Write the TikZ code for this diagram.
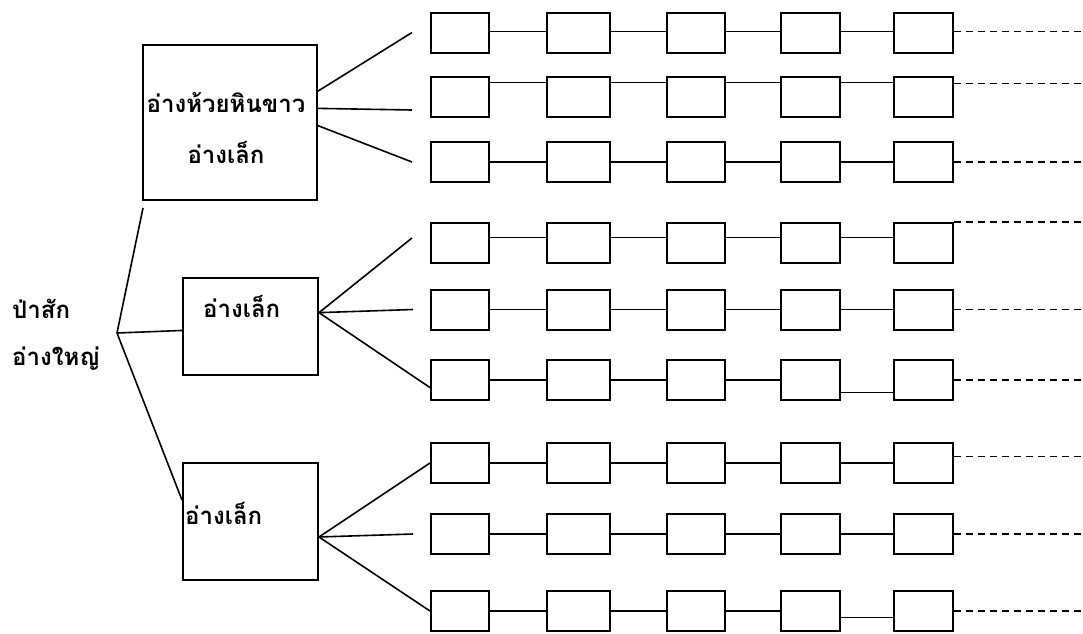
\documentclass[tikz,border=0pt]{standalone}
\usepackage{fontspec}
\newfontfamily\thaifont[Script=Thai]{Loma}
\usetikzlibrary{calc}

\tikzset{
	cell/.style={draw, line width=2pt, inner sep=0pt, minimum height=40pt},
	pond/.style={draw, line width=2pt, inner sep=0pt},
	link/.style={line width=1.6pt},
	tail/.style={line width=1.5pt, dash pattern=on 7pt off 5pt},
	thai/.style={font=\thaifont\bfseries\fontsize{24}{51}\selectfont, inner sep=0pt}
}

\begin{document}
\begin{tikzpicture}[x=1pt,y=-1pt]
				\useasboundingbox (0,0) rectangle (1083,633);
				
				\foreach \row/\y in {1/32.5,2/97,3/162,4/243,5/309.5,6/380,7/463,8/534,9/611}
					\foreach \col/\x/\w in {1/460/58,2/578.5/63,3/696/58,4/810.5/59,5/923.5/59}
						\node[cell, minimum width=\w pt] (b\row\col) at (\x,\y) {};
				
				\node[pond, minimum width=174pt, minimum height=155pt] (huai) at (230,122.5) {};
				\node[pond, minimum width=135pt, minimum height=97pt] (lekA) at (250.5,326.5) {};
				\node[pond, minimum width=135pt, minimum height=117pt] (lekB) at (250.5,521.5) {};
				
				\node[thai, align=center] (huaitxt) at (226,128) {อ่างห้วยหินขาว\\อ่างเล็ก};
				\node[thai, anchor=west] (lekAtxt) at (203,306) {อ่างเล็ก};
				\node[thai, anchor=west] (lekBtxt) at (185,513) {อ่างเล็ก};
				\node[thai, align=left, anchor=west, font=\thaifont\bfseries\fontsize{24}{47}\selectfont] (roottxt) at (12,335) {ป่าสัก\\อ่างใหญ่};
				
				\coordinate (root) at (117,333);
				\draw[link] (root) -- ($(huai.south west)+(1,7)$);
				\draw[link] (root) -- ($(lekA.north west)!.54!(lekA.south west)$);
				\draw[link] (root) -- ($(lekB.north west)!.32!(lekB.south west)$);
				
				\draw[link] ($(huai.north east)!.30!(huai.south east)$) -- ($(b11.west)+(-18,0)$);
				\draw[link] ($(huai.north east)!.41!(huai.south east)$) -- ($(b21.south west)+(-18,-8)$);
				\draw[link] ($(huai.north east)!.52!(huai.south east)$) -- ($(b31.west)+(-18,0)$);
				
				\coordinate (forkA) at ($(lekA.north east)!.36!(lekA.south east)$);
				\draw[link] (forkA) -- ($(b41.west)+(-18,-5)$);
				\draw[link] (forkA) -- ($(b51.west)+(-17,0)$);
				\draw[link] (forkA) -- ($(b61.north west)!.68!(b61.south west)$);
				
				\coordinate (forkB) at ($(lekB.north east)!.63!(lekB.south east)$);
				\draw[link] (forkB) -- (b71.west);
				\draw[link] (forkB) -- ($(b81.west)+(-17,0)$);
				\draw[link] (forkB) -- (b91.west);
				
				\foreach \row/\fa/\fb/\fd in {1/.48/.48/.48,2/.15/.15/.18,3/.5/.5/.5,4/.37/.37/0,5/.5/.5/.5,6/.5/.8/.5,7/.5/.5/.35,8/.5/.5/.5,9/.5/.65/.5}{
					\foreach \col/\nxt in {1/2,2/3,3/4}
						\draw[link] ($(b\row\col.north east)!\fa!(b\row\col.south east)$) -- ($(b\row\nxt.north west)!\fa!(b\row\nxt.south west)$);
					\draw[link] ($(b\row4.north east)!\fb!(b\row4.south east)$) -- ($(b\row5.north west)!\fb!(b\row5.south west)$);
					\draw[tail] ($(b\row5.north east)!\fd!(b\row5.south east)$) -- ++(130,0);
				}
\end{tikzpicture}
\end{document}
